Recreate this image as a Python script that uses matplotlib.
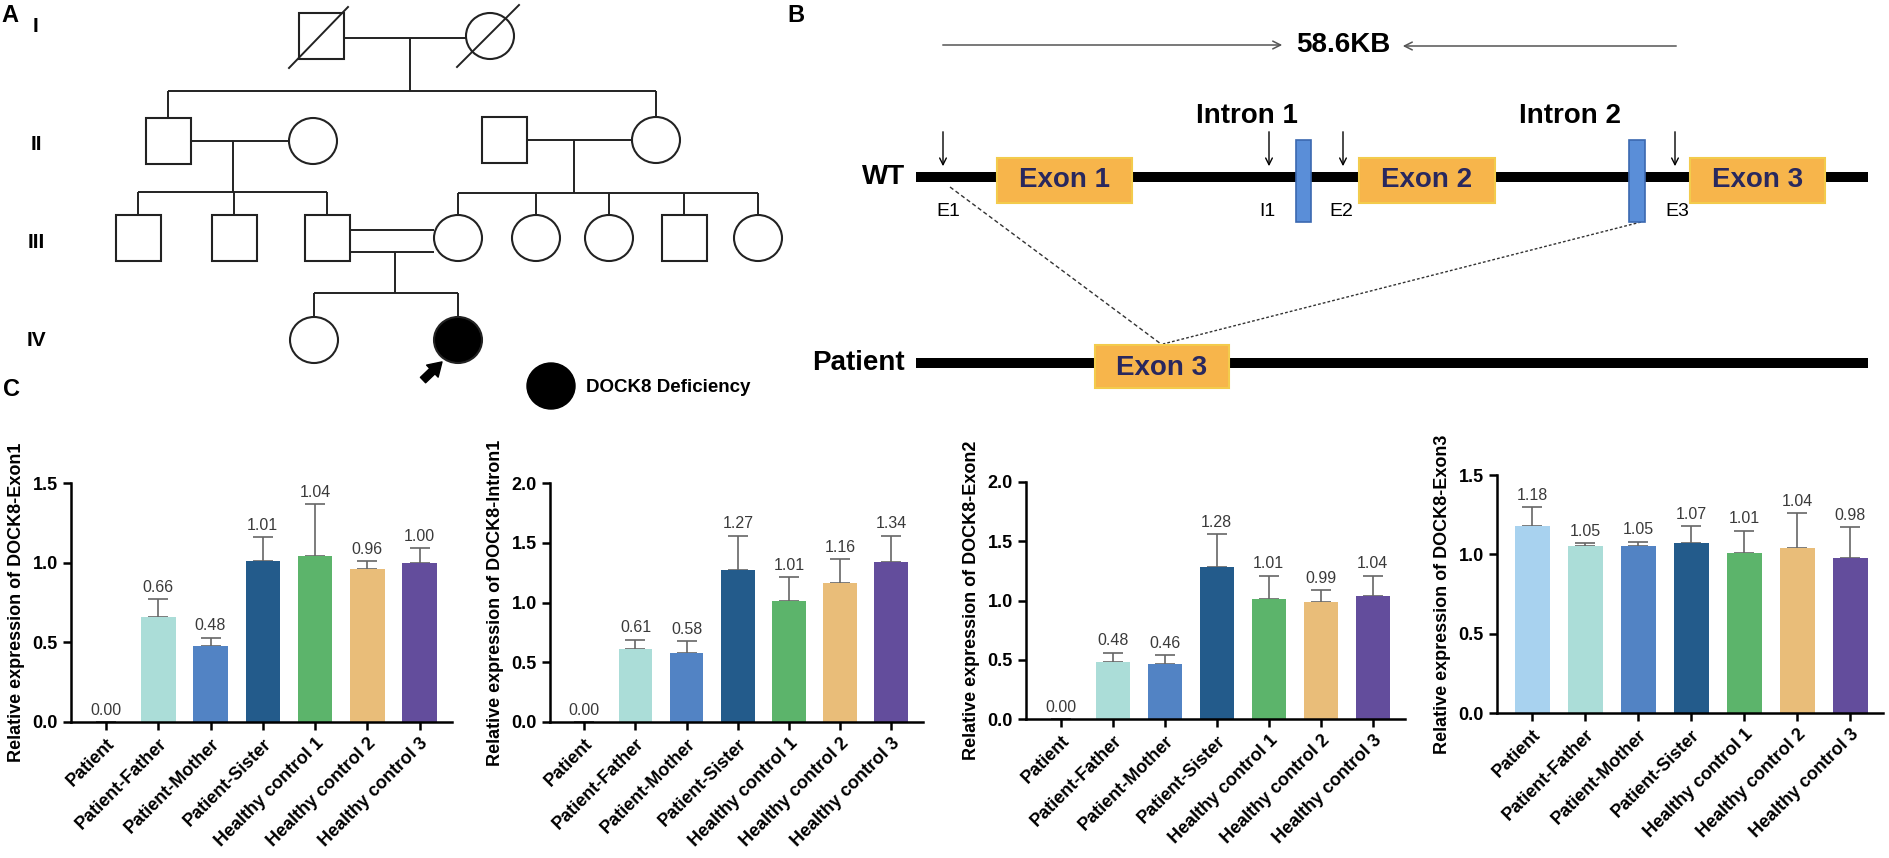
import numpy as np
import matplotlib
matplotlib.use("Agg")
import matplotlib.pyplot as plt
from matplotlib.patches import Rectangle, Ellipse

plt.rcParams['font.family'] = ['Liberation Sans', 'DejaVu Sans']

# ---- data for panel C ----
groups = ["Patient", "Patient-Father", "Patient-Mother", "Patient-Sister",
          "Healthy control 1", "Healthy control 2", "Healthy control 3"]
bar_colors = ["#A8D2EF", "#ABDDD8", "#5283C4", "#235B8B", "#5CB46B", "#E9BD79", "#634D9C"]

exon1 = [0.00, 0.66, 0.48, 1.01, 1.04, 0.96, 1.00]
exon1_sd = [0.00, 0.11, 0.05, 0.15, 0.33, 0.05, 0.09]
intron1 = [0.00, 0.61, 0.58, 1.27, 1.01, 1.16, 1.34]
intron1_sd = [0.00, 0.08, 0.10, 0.29, 0.20, 0.20, 0.22]
exon2 = [0.00, 0.48, 0.46, 1.28, 1.01, 0.99, 1.04]
exon2_sd = [0.00, 0.08, 0.08, 0.28, 0.20, 0.10, 0.17]
exon3 = [1.18, 1.05, 1.05, 1.07, 1.01, 1.04, 0.98]
exon3_sd = [0.12, 0.02, 0.03, 0.11, 0.14, 0.22, 0.19]

W, H = 1890, 858
fig = plt.figure(figsize=(W / 100, H / 100), dpi=100)

# overlay axes in pixel units for the pedigree (A) and gene diagram (B)
ov = fig.add_axes([0, 0, 1, 1])
ov.set_xlim(0, W)
ov.set_ylim(H, 0)
ov.axis('off')

# ---- panel A: pedigree ----
ped_lines = [
    ((344, 38), (466, 38)), ((410, 38), (410, 91)),
    ((168, 91), (656, 91)), ((168, 91), (168, 118)), ((656, 91), (656, 117)),
    ((191, 141), (290, 141)), ((233, 141), (233, 192)),
    ((138, 192), (327, 192)),
    ((138, 192), (138, 215)), ((234, 192), (234, 215)), ((327, 192), (327, 215)),
    ((527, 140), (632, 140)), ((574, 140), (574, 193)),
    ((458, 193), (758, 193)),
    ((458, 193), (458, 215)), ((536, 193), (536, 215)), ((609, 193), (609, 215)),
    ((684, 193), (684, 215)), ((758, 193), (758, 215)),
    ((350, 230), (434, 230)), ((350, 252), (434, 252)),
    ((395, 252), (395, 293)), ((314, 293), (458, 293)),
    ((314, 293), (314, 317)), ((458, 293), (458, 317)),
]
# (x, y, shape) shape: s = male, c = female, f = affected female
ped_people = [
    (321.5, 35.5, 's'), (490, 36, 'c'),
    (168, 141, 's'), (313, 141, 'c'), (504.5, 140, 's'), (656, 140, 'c'),
    (138, 238, 's'), (234, 238, 's'), (327, 238, 's'),
    (458, 238, 'c'), (536, 238, 'c'), (609, 238, 'c'), (684, 238, 's'), (758, 238, 'c'),
    (314, 340, 'c'), (458, 340, 'f'),
]
deceased = [((289, 68), (348, 7)), ((457, 67), (519, 5))]
gen_labels = [("I", 27), ("II", 145), ("III", 243), ("IV", 341)]

for (p0, p1) in ped_lines:
    ov.plot([p0[0], p1[0]], [p0[1], p1[1]], color='#222222', lw=1.4, solid_capstyle='butt')
for (x, y, s) in ped_people:
    if s == 's':
        ov.add_patch(Rectangle((x - 22.5, y - 23), 45, 46, fc='white', ec='#222222', lw=1.5))
    else:
        ov.add_patch(Ellipse((x, y), 48, 46, fc='black' if s == 'f' else 'white', ec='#222222', lw=1.5))
for (p0, p1) in deceased:
    ov.plot([p0[0], p1[0]], [p0[1], p1[1]], color='#222222', lw=1.4)
for lab, y in gen_labels:
    ov.text(36, y, lab, ha='center', va='center', fontsize=15, fontweight='bold')

ov.annotate('', xy=(444, 360), xytext=(421, 382),
            arrowprops=dict(arrowstyle='simple,head_width=1.0,head_length=0.8,tail_width=0.45',
                            color='black', mutation_scale=12))
ov.add_patch(Ellipse((551, 386), 48, 46, fc='black', ec='black'))
ov.text(586, 387, "DOCK8 Deficiency", ha='left', va='center', fontsize=13.5, fontweight='bold')

# ---- panel B: gene diagram ----
exon_color = "#F7B54B"
exon_edge = "#F3CB4C"
intron_color = "#5A8ED8"
txt_navy = "#29285E"
wt_y, pt_y = 177, 363
exon_boxes = [("Exon 1", 997, 135), ("Exon 2", 1359, 136), ("Exon 3", 1690, 135)]
intron_bars = [(1296, 15), (1629, 16)]
intron_labels = [("Intron 1", 1247), ("Intron 2", 1570)]
probe_arrows = [("E1", 943, 948), ("I1", 1269, 1267), ("E2", 1343, 1341), ("E3", 1675, 1677)]

ov.annotate('', xy=(1285, 45), xytext=(940, 45),
            arrowprops=dict(arrowstyle='->', color='#555555', lw=1.1, mutation_scale=14))
ov.annotate('', xy=(1400, 46), xytext=(1679, 46),
            arrowprops=dict(arrowstyle='->', color='#555555', lw=1.1, mutation_scale=14))
ov.text(1343, 45, "58.6KB", ha='center', va='center', fontsize=20, fontweight='bold')

ov.plot([916, 1868], [wt_y, wt_y], color='black', lw=7.2, solid_capstyle='butt', zorder=2)
ov.text(905, wt_y, "WT", ha='right', va='center', fontsize=20, fontweight='bold')
for name, x0, w in exon_boxes:
    ov.add_patch(Rectangle((x0, wt_y - 19), w, 45, fc=exon_color, ec=exon_edge, lw=1.5, zorder=3))
    ov.text(x0 + w / 2, wt_y + 3, name, ha='center', va='center', fontsize=20,
            fontweight='bold', color=txt_navy, zorder=4)
for x0, w in intron_bars:
    ov.add_patch(Rectangle((x0, 140), w, 82, fc=intron_color, ec='#3B68B0', lw=1.2, zorder=3))
for name, xc in intron_labels:
    ov.text(xc, 116, name, ha='center', va='center', fontsize=20, fontweight='bold')
for name, xa, xl in probe_arrows:
    ov.annotate('', xy=(xa, 169), xytext=(xa, 129),
                arrowprops=dict(arrowstyle='->', color='black', lw=1.0, mutation_scale=12))
    ov.text(xl, 211, name, ha='center', va='center', fontsize=14)

ov.plot([950, 1161], [187, 344], color='#333333', lw=1.0, ls=(0, (3, 2)))
ov.plot([1641, 1163], [222, 344], color='#333333', lw=1.0, ls=(0, (2, 1.5)))

ov.plot([916, 1868], [pt_y, pt_y], color='black', lw=7.2, solid_capstyle='butt', zorder=2)
ov.text(905, pt_y, "Patient", ha='right', va='center', fontsize=20, fontweight='bold')
ov.add_patch(Rectangle((1095, 345), 134, 43, fc=exon_color, ec=exon_edge, lw=1.5, zorder=3))
ov.text(1162, 368, "Exon 3", ha='center', va='center', fontsize=20,
        fontweight='bold', color=txt_navy, zorder=4)

for lab, x, y in [("A", 10, 16), ("B", 796, 16), ("C", 11, 389)]:
    ov.text(x, y, lab, ha='center', va='center', fontsize=17, fontweight='bold')

# ---- panel C: bar charts ----
panels = [
    ("Relative expression of DOCK8-Exon1", exon1, exon1_sd, 1.5, (71, 483, 452, 722)),
    ("Relative expression of DOCK8-Intron1", intron1, intron1_sd, 2.0, (550, 483, 923, 722)),
    ("Relative expression of DOCK8-Exon2", exon2, exon2_sd, 2.0, (1026, 482, 1405, 719)),
    ("Relative expression of DOCK8-Exon3", exon3, exon3_sd, 1.5, (1497, 475, 1883, 713)),
]

for ylab, vals, sd, ymax, (l, t, r, b) in panels:
    ax = fig.add_axes([l / W, 1 - b / H, (r - l) / W, (b - t) / H])
    x = np.arange(len(groups))
    ax.bar(x, vals, width=0.66, color=bar_colors, zorder=2)
    ax.errorbar(x, vals, yerr=[np.zeros(len(sd)), sd], fmt='none', ecolor='#666666',
                elinewidth=1.2, capsize=7, capthick=1.2, zorder=1)
    for xi, v, e in zip(x, vals, sd):
        ax.annotate(f"{v:.2f}", (xi, v + e), xytext=(0, 3), textcoords='offset points',
                    ha='center', va='bottom', fontsize=11.5, color='#3a3a3a')
    ax.set_xlim(-0.67, 6.62)
    ax.set_ylim(0, ymax)
    ax.set_yticks(np.arange(0, ymax + 0.01, 0.5))
    ax.set_yticklabels([f"{v:.1f}" for v in np.arange(0, ymax + 0.01, 0.5)],
                       fontsize=13, fontweight='bold')
    ax.set_xticks(x)
    ax.set_xticklabels(groups, rotation=45, ha='right', rotation_mode='anchor',
                       fontsize=13, fontweight='bold')
    ax.set_ylabel(ylab, fontsize=13, fontweight='bold', labelpad=5)
    for s in ['top', 'right']:
        ax.spines[s].set_visible(False)
    for s in ['left', 'bottom']:
        ax.spines[s].set_linewidth(1.8)
    ax.tick_params(axis='both', width=1.8, length=6, direction='out')
    ax.patch.set_alpha(0)

fig.savefig("out.png", dpi=100)
